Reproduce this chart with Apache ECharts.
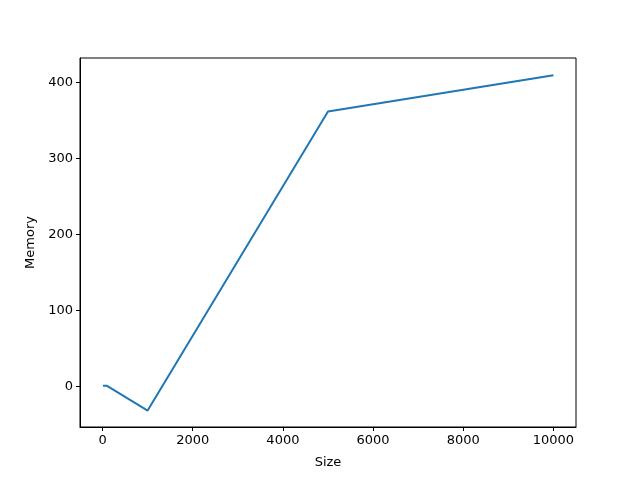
<!DOCTYPE html>
<html>
<head>
<meta charset="utf-8">
<script src="https://cdn.jsdelivr.net/npm/echarts@6/dist/echarts.min.js"></script>
<style>
  html, body { margin: 0; padding: 0; background: #fff; }
  #main { width: 640px; height: 480px; }
</style>
</head>
<body>
<div id="main"></div>
<script>
// data
const sizes = [10, 100, 1000, 5000, 10000];
const memory = [0.5, 0.5, -32, 362, 410];
const xTicks = [0, 2000, 4000, 6000, 8000, 10000];
const yTicks = [0, 100, 200, 300, 400];

const chart = echarts.init(document.getElementById("main"));
const font = "DejaVu Sans";

chart.setOption({
  animation: false,
  grid: {
    left: 80,
    right: 64,
    top: 58,
    bottom: 53,
    show: true,
    borderColor: "#000",
    borderWidth: 1,
  },
  xAxis: {
    type: "value",
    min: -500,
    max: 10500,
    name: "Size",
    nameLocation: "middle",
    nameGap: 29,
    nameTextStyle: { color: "#000", fontSize: 13, fontFamily: font },
    axisLine: { show: true, onZero: false, lineStyle: { color: "#000", width: 1 } },
    axisTick: {
      show: true,
      length: 4,
      customValues: xTicks,
      lineStyle: { color: "#000", width: 1 },
    },
    axisLabel: {
      customValues: xTicks,
      formatter: (v) => String(v),
      margin: 7,
      color: "#000",
      fontSize: 13,
      fontFamily: font,
    },
    splitLine: { show: false },
  },
  yAxis: {
    type: "value",
    min: -53.7,
    max: 432.6,
    name: "Memory",
    nameLocation: "middle",
    nameGap: 40,
    nameTextStyle: { color: "#000", fontSize: 13, fontFamily: font },
    axisLine: { show: true, onZero: false, lineStyle: { color: "#000", width: 1 } },
    axisTick: {
      show: true,
      length: 4,
      customValues: yTicks,
      lineStyle: { color: "#000", width: 1 },
    },
    axisLabel: {
      customValues: yTicks,
      formatter: (v) => String(v),
      margin: 7,
      color: "#000",
      fontSize: 13,
      fontFamily: font,
    },
    splitLine: { show: false },
  },
  series: [
    {
      type: "line",
      data: sizes.map((s, i) => [s, memory[i]]),
      showSymbol: false,
      lineStyle: { color: "#1f77b4", width: 2 },
      itemStyle: { color: "#1f77b4" },
    },
  ],
});
</script>
</body>
</html>
